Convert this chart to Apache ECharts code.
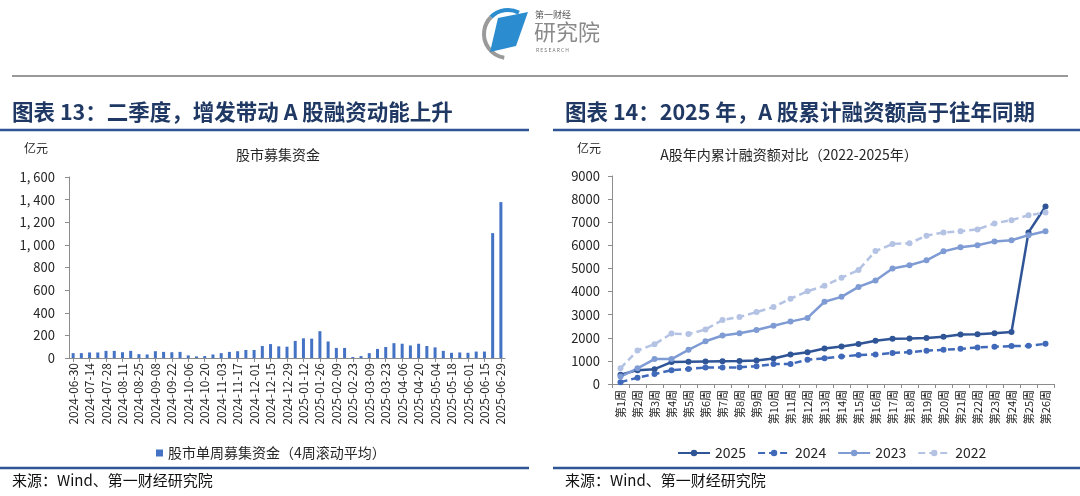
<!DOCTYPE html>
<html><head><meta charset="utf-8">
<script src="https://cdn.jsdelivr.net/npm/echarts@6/dist/echarts.min.js"></script>
<style>html,body{margin:0;padding:0;background:#fff}#c{width:1080px;height:496px}</style>
</head><body><div id="c"></div>
<script>
const weekDates = ['2024-06-30','2024-07-07','2024-07-14','2024-07-21','2024-07-28','2024-08-04','2024-08-11','2024-08-18','2024-08-25','2024-09-01','2024-09-08','2024-09-15','2024-09-22','2024-09-29','2024-10-06','2024-10-13','2024-10-20','2024-10-27','2024-11-03','2024-11-10','2024-11-17','2024-11-24','2024-12-01','2024-12-08','2024-12-15','2024-12-22','2024-12-29','2025-01-05','2025-01-12','2025-01-19','2025-01-26','2025-02-02','2025-02-09','2025-02-16','2025-02-23','2025-03-02','2025-03-09','2025-03-16','2025-03-23','2025-03-30','2025-04-06','2025-04-13','2025-04-20','2025-04-27','2025-05-04','2025-05-11','2025-05-18','2025-05-25','2025-06-01','2025-06-08','2025-06-15','2025-06-22','2025-06-29'];
const weeklyFunds = [43,43,49,49,63,63,51,63,34,31,60,54,51,54,23,14,17,31,43,54,60,71,71,106,123,103,100,151,174,171,237,146,89,89,9,17,43,80,97,131,126,111,126,106,94,63,46,49,46,57,57,1104,1378];
const leftTicks = [0,200,400,600,800,1000,1200,1400,1600];

const weekLabels = ['第1周','第2周','第3周','第4周','第5周','第6周','第7周','第8周','第9周','第10周','第11周','第12周','第13周','第14周','第15周','第16周','第17周','第18周','第19周','第20周','第21周','第22周','第23周','第24周','第25周','第26周'];
const cum2025 = [400,600,640,950,960,970,980,990,1020,1100,1280,1370,1540,1620,1730,1870,1960,1970,1990,2040,2140,2150,2200,2250,6560,7680];
const cum2024 = [80,270,430,600,650,710,710,720,770,860,870,1050,1110,1190,1250,1280,1340,1380,1440,1480,1520,1580,1610,1640,1650,1740];
const cum2023 = [320,680,1080,1080,1480,1850,2100,2200,2340,2520,2700,2860,3560,3770,4200,4480,5000,5140,5350,5740,5920,6000,6170,6220,6440,6610];
const cum2022 = [680,1450,1720,2180,2160,2360,2770,2900,3110,3330,3690,4010,4250,4600,4930,5750,6060,6090,6420,6560,6610,6690,6950,7090,7300,7420];
const rightTicks = [0,1000,2000,3000,4000,5000,6000,7000,8000,9000];

const FONT = '"Noto Sans CJK SC", "Noto Sans", sans-serif';
const axisGray = '#8c8c8c';
const txt = '#262626';
const navy = '#1f3864';

const chart = echarts.init(document.getElementById('c'));
const lineSeries = (name, data, color, dashed, width) => ({
  name, type: 'line', xAxisIndex: 1, yAxisIndex: 1, data,
  symbol: 'circle', symbolSize: 6,
  lineStyle: {color, width: width, type: dashed ? [7, 4] : 'solid'},
  itemStyle: {color},
  emphasis: {disabled: true}
});

chart.setOption({
  animation: false,
  textStyle: {fontFamily: FONT},
  title: [
    {text: '股市募集资金', left: 273, top: 143, textAlign: 'center', textStyle: {fontSize: 14, fontWeight: 'normal', color: txt, fontFamily: FONT}},
    {text: 'A股年内累计融资额对比（2022-2025年）', left: 784, top: 143, textAlign: 'center', textStyle: {fontSize: 14, fontWeight: 'normal', color: txt, fontFamily: FONT}}
  ],
  legend: [
    {data: ['股市单周募集资金（4周滚动平均）'], left: 151, top: 441, icon: 'rect', itemWidth: 7, itemHeight: 7, itemGap: 4,
     textStyle: {fontSize: 14, color: txt, fontFamily: FONT}},
    {data: ['2025','2024','2023','2022'], left: 672, top: 441, itemWidth: 32, itemHeight: 8, itemGap: 11,
     textStyle: {fontSize: 14, color: txt, fontFamily: FONT}}
  ],
  grid: [
    {left: 69, top: 177, width: 436, height: 181},
    {left: 612, top: 176, width: 442, height: 208}
  ],
  xAxis: [
    {type: 'category', gridIndex: 0, data: weekDates, boundaryGap: true,
     axisLine: {lineStyle: {color: axisGray}},
     axisTick: {show: true, interval: 1, alignWithLabel: true, length: 4, lineStyle: {color: axisGray}},
     axisLabel: {interval: 1, rotate: 90, fontSize: 12, color: txt, margin: 5, fontFamily: FONT}},
    {type: 'category', gridIndex: 1, data: weekLabels, boundaryGap: true,
     axisLine: {lineStyle: {color: axisGray}},
     axisTick: {show: true, length: 4, lineStyle: {color: axisGray}},
     axisLabel: {interval: 0, rotate: 90, fontSize: 11, color: txt, margin: 6, fontFamily: FONT}}
  ],
  yAxis: [
    {type: 'value', gridIndex: 0, min: leftTicks[0], max: leftTicks[leftTicks.length-1], interval: 200,
     axisLine: {show: true, lineStyle: {color: axisGray}},
     axisTick: {show: true, length: 4, lineStyle: {color: axisGray}},
     splitLine: {show: false},
     axisLabel: {fontSize: 13, color: txt, margin: 14, fontFamily: FONT,
       formatter: v => v >= 1000 ? Math.floor(v/1000) + ', ' + String(v % 1000).padStart(3,'0') : String(v)}},
    {type: 'value', gridIndex: 1, min: rightTicks[0], max: rightTicks[rightTicks.length-1], interval: 1000,
     axisLine: {show: true, lineStyle: {color: axisGray}},
     axisTick: {show: true, length: 4, lineStyle: {color: axisGray}},
     splitLine: {show: false},
     axisLabel: {fontSize: 13, color: txt, margin: 12, fontFamily: FONT, formatter: v => String(v)}}
  ],
  series: [
    {name: '股市单周募集资金（4周滚动平均）', type: 'bar', xAxisIndex: 0, yAxisIndex: 0, data: weeklyFunds,
     barWidth: 3, itemStyle: {color: '#4472c4'}, emphasis: {disabled: true}},
    lineSeries('2025', cum2025, '#2f5597', false, 2.5),
    lineSeries('2024', cum2024, '#4169b9', true, 2.5),
    lineSeries('2023', cum2023, '#7f9bd4', false, 2.5),
    lineSeries('2022', cum2022, '#b4c3e4', true, 2.5)
  ],
  graphic: [
    // logo
    {type: 'arc', shape: {cx: 508, cy: 34, r: 24, startAngle: Math.PI*0.55, endAngle: Math.PI*1.25}, style: {stroke: '#9a9a9a', lineWidth: 4, fill: null}},
    {type: 'arc', shape: {cx: 508, cy: 34, r: 24, startAngle: Math.PI*1.25, endAngle: Math.PI*1.65}, style: {stroke: '#2b8ccf', lineWidth: 4, fill: null}},
    {type: 'polygon', shape: {points: [[498,18],[528,12],[516,46],[490,52]]}, style: {fill: '#2b8ccf'}},
    {type: 'text', left: 535, top: 10, style: {text: '第一财经', fontSize: 9, fill: '#555', fontFamily: FONT}},
    {type: 'text', left: 534, top: 21, style: {text: '研究院', fontSize: 22, fill: '#8a8a8a', fontFamily: FONT}},
    {type: 'text', left: 536, top: 48, style: {text: 'R E S E A R C H', fontSize: 5, fill: '#777', fontFamily: FONT}},
    // separator
    {type: 'line', shape: {x1: 12, y1: 76, x2: 1068, y2: 76}, style: {stroke: '#333', lineWidth: 1}},
    // section titles
    {type: 'text', left: 12, top: 101, style: {text: '图表 13：二季度，增发带动 A 股融资动能上升', fontSize: 21.5, fontWeight: 'bold', fill: navy, fontFamily: FONT}},
    {type: 'text', left: 565, top: 101, style: {text: '图表 14：2025 年，A 股累计融资额高于往年同期', fontSize: 21.5, fontWeight: 'bold', fill: navy, fontFamily: FONT}},
    {type: 'line', shape: {x1: 0, y1: 130, x2: 529, y2: 130}, style: {stroke: '#2f5597', lineWidth: 2.5}},
    {type: 'line', shape: {x1: 553, y1: 130, x2: 1080, y2: 130}, style: {stroke: '#2f5597', lineWidth: 2.5}},
    // unit labels
    {type: 'text', left: 24, top: 142, style: {text: '亿元', fontSize: 12, fill: txt, fontFamily: FONT}},
    {type: 'text', left: 577, top: 142, style: {text: '亿元', fontSize: 12, fill: txt, fontFamily: FONT}},
    // footer
    {type: 'line', shape: {x1: 0, y1: 468, x2: 529, y2: 468}, style: {stroke: '#2f5597', lineWidth: 2.5}},
    {type: 'line', shape: {x1: 553, y1: 468, x2: 1080, y2: 468}, style: {stroke: '#2f5597', lineWidth: 2.5}},
    {type: 'text', left: 12, top: 473, style: {text: '来源：Wind、第一财经研究院', fontSize: 15, fill: '#111', fontFamily: FONT}},
    {type: 'text', left: 565, top: 473, style: {text: '来源：Wind、第一财经研究院', fontSize: 15, fill: '#111', fontFamily: FONT}}
  ]
});
</script></body></html>
